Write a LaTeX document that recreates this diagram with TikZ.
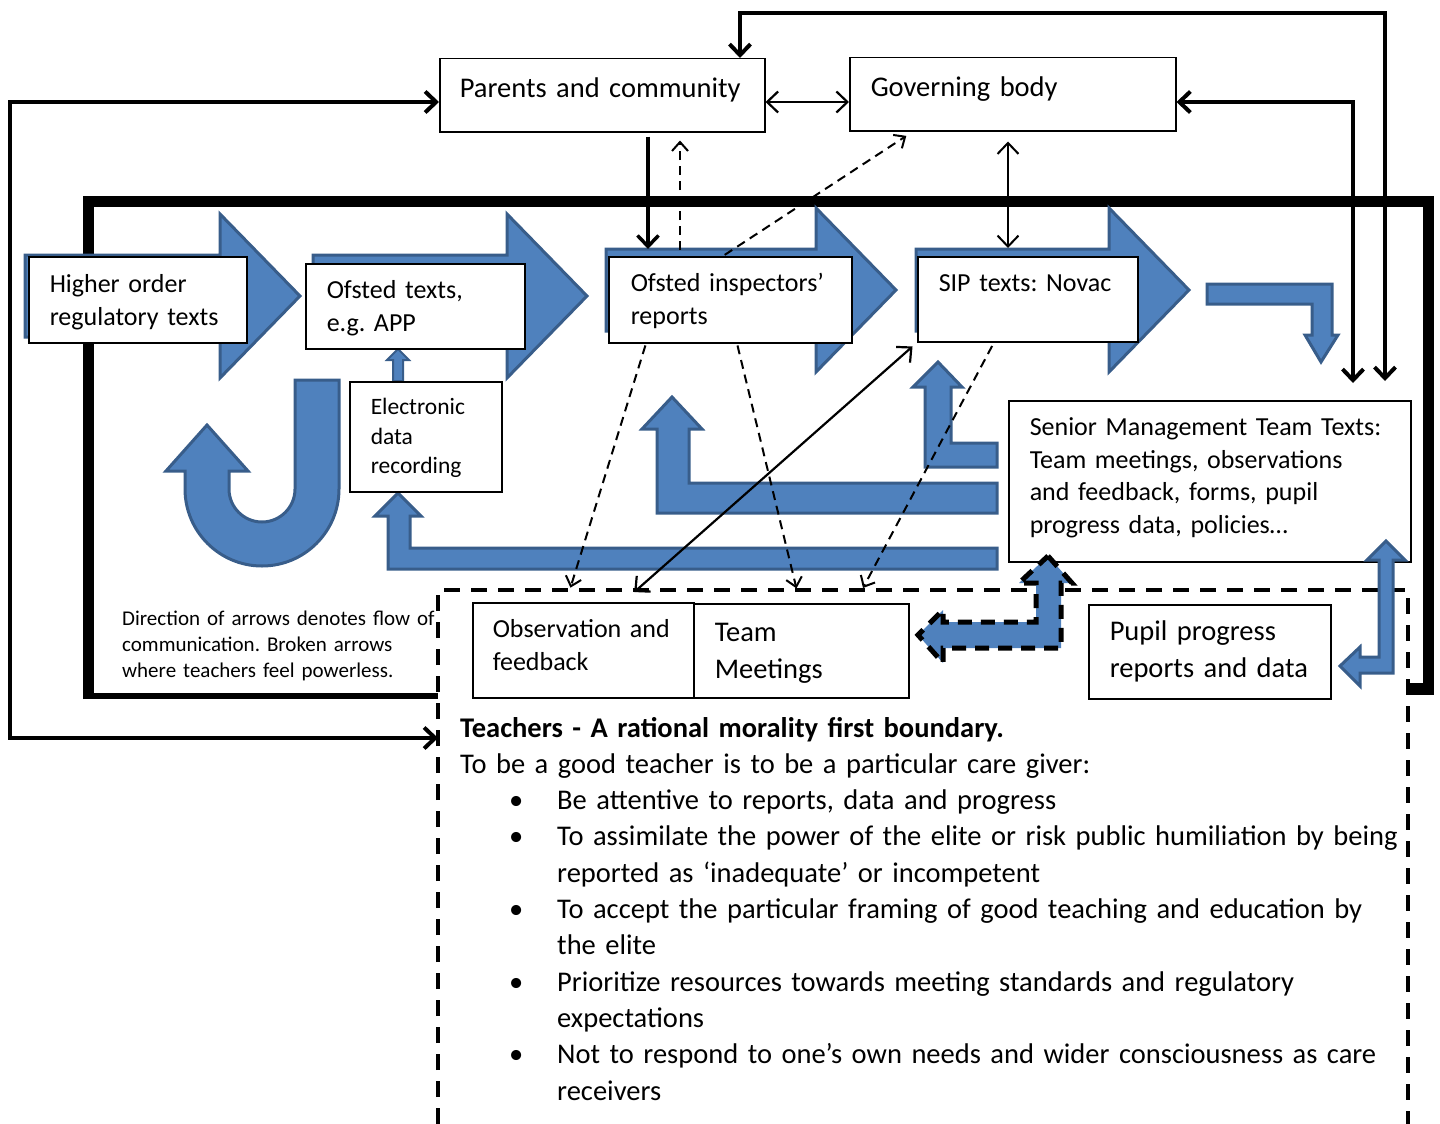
\documentclass[tikz,border=0pt]{standalone}
\usepackage{fontspec}
\setmainfont{Carlito}
\usepackage{xcolor}
\usepackage{tikz}
\usetikzlibrary{arrows.meta}
\definecolor{fillblue}{HTML}{4F81BD}
\definecolor{edgeblue}{HTML}{385D8A}
\frenchspacing
\newcommand{\bitem}{\hspace*{49pt}\makebox[48pt][l]{\textbullet}}
\newcommand{\bcont}{\hspace*{97pt}}
\tikzset{
  box/.style={draw=black, line width=1.5pt, fill=white, anchor=north west, align=left, inner ysep=0pt},
  fbig/.style={font=\fontsize{28.5}{36.5}\selectfont},
  fmid/.style={font=\fontsize{26}{32.5}\selectfont},
  fsml/.style={font=\fontsize{23.5}{29.5}\selectfont},
  fnote/.style={font=\fontsize{21}{26}\selectfont},
  blk/.style={fill=fillblue, draw=edgeblue, line width=3pt, line join=miter},
  frame/.style={draw=black, line cap=butt},
  con/.style={draw=black, line width=4pt},
  link/.style={draw=black, line width=2.2pt},
  weak/.style={draw=black, line width=2pt, dash pattern=on 9pt off 6pt, >={Straight Barb[length=9pt,width=16pt]}},
}

\begin{document}
\begin{tikzpicture}[x=1pt, y=-1pt, >={Straight Barb[length=11pt,width=21pt]}]
  \useasboundingbox (0,0) rectangle (1440,1124);

  % thick school frame
  \draw[frame, line width=11pt] (88,699) -- (88,201.5) -- (1428,201.5) -- (1428,695);
  \draw[frame, line width=6pt] (83,696) -- (438,696);
  \draw[frame, line width=12pt] (1407,689) -- (1434,689);

  % big block arrows behind the text boxes
  \foreach \xa/\xb/\xt/\yc in {25/220/300/296, 313/507/587/296, 606/816/896/290, 916/1109/1189/290}
    \draw[blk] (\xa,\yc-41) -- (\xb,\yc-41) -- (\xb,\yc-82) -- (\xt,\yc) -- (\xb,\yc+82) -- (\xb,\yc+41) -- (\xa,\yc+41) -- cycle;

  % bent arrow down to the senior team
  \draw[blk] (1207,284) -- (1332,284) -- (1332,335) -- (1338,335) -- (1321,362) -- (1305,335) -- (1312,335) -- (1312,304) -- (1207,304) -- cycle;

  % arrows back up from the senior team
  \draw[blk] (997,443) -- (951,443) -- (951,387) -- (962,387) -- (938,362) -- (913,387) -- (925,387) -- (925,467) -- (997,467) -- cycle;
  \draw[blk] (997,483) -- (689,483) -- (689,429) -- (702,429) -- (672,397) -- (642,429) -- (657,429) -- (657,513) -- (997,513) -- cycle;
  \draw[blk] (997,548) -- (410,548) -- (410,516) -- (421,516) -- (398,493) -- (375,516) -- (388,516) -- (388,569) -- (997,569) -- cycle;
  \draw[blk, line width=2pt] (393,381) -- (393,360) -- (387,360) -- (398,349) -- (409,360) -- (403,360) -- (403,381) -- cycle;

  % U-turn arrow
  \draw[blk] (339,380) -- (339,489) arc[start angle=0, end angle=180, radius=77] -- (185,471) -- (166,471) -- (207,425) -- (248,471) -- (229,471) -- (229,489) arc[start angle=180, end angle=0, radius=33] -- (295,380) -- cycle;

  % teachers boundary
  \draw[black, line width=4pt, dash pattern=on 16pt off 11pt] (438,1124) -- (438,590) -- (1408,590) -- (1408,1124);

  % text boxes
  \node[box, fbig, inner xsep=20pt, text width=285pt, text height=39pt, text depth=34pt] (parents) at (439,58) {Parents~and~community};
  \node[box, fbig, inner xsep=21pt, text width=284pt, text height=39pt, text depth=34pt] (gov) at (849,57) {Governing~body};
  \node[box, fmid, inner xsep=21pt, text width=176pt, text height=36pt, text depth=50pt] (higher) at (28,256) {Higher~order\\regulatory~texts};
  \node[box, fmid, inner xsep=21pt, text width=177pt, text height=35pt, text depth=50pt] (app) at (305,263) {Ofsted~texts,\\e.g.~APP};
  \node[box, fmid, inner xsep=22pt, text width=199pt, text height=35pt, text depth=51pt] (insp) at (608,256) {Ofsted~inspectors’\\reports};
  \node[box, fmid, inner xsep=21pt, text width=178pt, text height=35pt, text depth=50pt] (sip) at (917,256) {SIP~texts:~Novac};
  \node[box, fsml, inner xsep=21pt, text width=110pt, text height=33pt, text depth=77pt] (elec) at (349,381) {Electronic\\data\\recording};
  \node[box, fmid, inner xsep=21pt, text width=360pt, text height=35pt, text depth=126pt] (smt) at (1008,400) {Senior~Management~Team~Texts:\\Team~meetings,~observations\\and~feedback,~forms,~pupil\\progress~data,~policies…};
  \node[box, fmid, inner xsep=20pt, text width=181pt, text height=35pt, text depth=60pt] (obs) at (472,602) {Observation~and\\feedback};
  \node[box, fbig, inner xsep=21pt, text width=173pt, text height=38pt, text depth=56pt] (team) at (693,603) {Team\\Meetings};
  \node[box, fbig, inner xsep=21pt, text width=200pt, text height=36pt, text depth=58pt] (pupil) at (1088,604) {Pupil~progress\\reports~and~data};

  % arrows between the senior team and the teachers
  \draw[blk] (1386,541) -- (1405,560) -- (1393,560) -- (1393,673) -- (1360,673) -- (1360,686) -- (1340,666) -- (1360,647) -- (1360,657) -- (1379,657) -- (1379,560) -- (1367,560) -- cycle;
  \draw[fill=fillblue, draw=black, line width=5pt, dash pattern=on 14pt off 9pt] (1048,556) -- (1072,583) -- (1061,583) -- (1061,648) -- (943,648) -- (943,663) -- (918,635) -- (943,610) -- (943,622) -- (1036,622) -- (1036,583) -- (1019,583) -- cycle;

  % notes
  \node[fnote, anchor=base west, inner sep=0pt, align=left, text width=330pt] (note) at (122,625) {Direction of arrows denotes flow of\\communication. Broken arrows\\where teachers feel powerless.};
  \node[anchor=base west, inner sep=0pt, align=left, text width=960pt, font=\fontsize{28.5}{36.3}\selectfont] (rules) at (460,737) {\textbf{Teachers - A rational morality first boundary.}\\
    To be a good teacher is to be a particular care giver:\\
    \bitem Be attentive to reports, data and progress\\
    \bitem To assimilate the power of the elite or risk public humiliation by being\\
    \bcont reported as ‘inadequate’ or incompetent\\
    \bitem To accept the particular framing of good teaching and education by\\
    \bcont the elite\\
    \bitem Prioritize resources towards meeting standards and regulatory\\
    \bcont expectations\\
    \bitem Not to respond to one’s own needs and wider consciousness as care\\
    \bcont receivers};

  % connectors
  \coordinate (lt) at (10,102);
  \coordinate (lb) at (10,738);
  \coordinate (tleft) at (438,738);
  \draw[con, <->] (parents.west |- lt) -- (lt) -- (lb) -- (tleft);
  \coordinate (tl) at (740,13);
  \coordinate (tr) at (1385,13);
  \coordinate (trb) at (1385,381);
  \draw[con, <->] (parents.north -| tl) -- (tl) -- (tr) -- (trb);
  \coordinate (gr) at (1353,102);
  \coordinate (grb) at (1353,383);
  \draw[con, <->] (gov.east |- gr) -- (gr) -- (grb);
  \coordinate (pg) at (800,102);
  \draw[link, <->] (parents.east |- pg) -- (gov.west |- pg);
  \coordinate (xa) at (648,0);
  \draw[con, line width=3.5pt, ->, shorten <=4pt, shorten >=7pt] (parents.south -| xa) -- (insp.north -| xa);
  \coordinate (xb) at (680,0);
  \draw[weak, ->, shorten <=6pt, shorten >=8pt] (insp.north -| xb) -- (parents.south -| xb);
  \coordinate (xc) at (723,0);
  \coordinate (xd) at (913,0);
  \draw[weak, ->, shorten <=2pt, shorten >=8pt] (insp.north -| xc) -- (gov.south -| xd);
  \coordinate (xe) at (1008,0);
  \draw[link, line width=2pt, <->, shorten <=10pt, shorten >=8pt] (gov.south -| xe) -- (sip.north -| xe);
  \coordinate (xf) at (646,0);
  \coordinate (xg) at (566,0);
  \draw[weak, ->, shorten <=2pt, shorten >=15pt] (insp.south -| xf) -- (obs.north -| xg);
  \coordinate (xh) at (737,0);
  \coordinate (xi) at (800,0);
  \draw[weak, ->, shorten <=2pt, shorten >=15pt] (insp.south -| xh) -- (team.north -| xi);
  \coordinate (xj) at (994,0);
  \coordinate (xk) at (855,0);
  \draw[weak, ->, shorten <=4pt, shorten >=17pt] (sip.south -| xj) -- (team.north -| xk);
  \coordinate (xl) at (623,0);
  \draw[link, <->, shorten <=6pt, shorten >=15pt] (sip.south west) -- (obs.north -| xl);
\end{tikzpicture}
\end{document}
